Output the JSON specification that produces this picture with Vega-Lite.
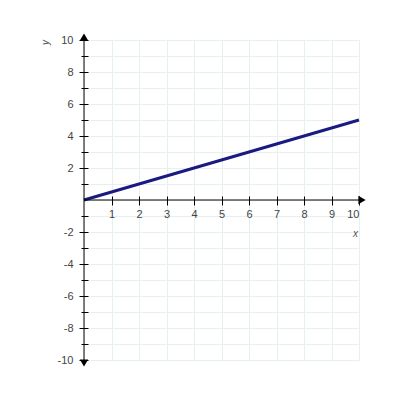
{
  "$schema": "https://vega.github.io/schema/vega-lite/v6.json",
  "autosize": {"type": "none"},
  "padding": {"left": 84, "top": 40, "right": 41, "bottom": 40},
  "width": 275,
  "height": 320,
  "config": {
    "view": {"stroke": null},
    "font": "Liberation Sans",
    "axis": {"labelFont": "Liberation Sans", "titleFont": "Liberation Sans"}
  },
  "datasets": {
    "line": [{"x": 0, "y": 0}, {"x": 10, "y": 5}],
    "axes": [
      {"x": 0, "y": -10, "x2": 0, "y2": 10},
      {"x": 0, "y": 0, "x2": 10, "y2": 0}
    ],
    "arrows": [
      {"x": 10, "y": 0, "dir": "right"},
      {"x": 0, "y": 10, "dir": "up"},
      {"x": 0, "y": -10, "dir": "down"}
    ]
  },
  "resolve": {"axis": {"x": "independent", "y": "independent"}},
  "layer": [
    {
      "data": {"name": "line"},
      "mark": {"type": "line", "color": "#1a1a80", "strokeWidth": 3},
      "encoding": {
        "x": {"field": "x", "type": "quantitative", "scale": {"domain": [0, 10], "nice": false},
          "axis": {"orient": "bottom", "grid": true, "gridColor": "#e6f0f0", "gridWidth": 1, "values": [0,1,2,3,4,5,6,7,8,9,10], "labels": false, "ticks": false, "domain": false, "title": null}},
        "y": {"field": "y", "type": "quantitative", "scale": {"domain": [-10, 10], "nice": false},
          "axis": {"orient": "left", "grid": true, "gridColor": "#e6f0f0", "gridWidth": 1, "values": [-10,-9,-8,-7,-6,-5,-4,-3,-2,-1,0,1,2,3,4,5,6,7,8,9,10], "labels": false, "ticks": false, "domain": false, "title": null}}
      }
    },
    {
      "data": {"name": "axes"},
      "mark": {"type": "rule", "color": "#000000", "strokeWidth": 1},
      "encoding": {
        "x": {"field": "x", "type": "quantitative",
          "axis": {"orient": "bottom", "offset": -164, "domain": false, "grid": false, "values": [1,2,3,4,5,6,7,8,9,10], "tickSize": 9, "tickColor": "#000000", "labelPadding": 3, "labelFontSize": 11, "labelColor": "#444444", "title": "x", "titleFontStyle": "italic", "titleFontWeight": "normal", "titleFontSize": 10, "titleColor": "#555555", "titleX": 271, "titleY": 37, "titleAlign": "center", "titleBaseline": "middle"}},
        "y": {"field": "y", "type": "quantitative",
          "axis": {"orient": "left", "offset": -4, "domain": false, "grid": false, "values": [-10,-9,-8,-7,-6,-5,-4,-3,-2,-1,1,2,3,4,5,6,7,8,9,10], "labelExpr": "datum.value % 2 === 0 ? toString(datum.value) : ''", "tickSize": {"expr": "datum.value % 2 === 0 ? 9 : 7"}, "tickColor": "#000000", "labelPadding": 6, "labelFontSize": 11, "labelColor": "#444444", "title": "y", "titleAngle": -90, "titleFontWeight": "normal", "titleFontStyle": "italic", "titleFontSize": 10, "titleColor": "#555555", "titleX": -43, "titleY": 2, "titleAlign": "center", "titleBaseline": "middle"}},
        "x2": {"field": "x2"},
        "y2": {"field": "y2"}
      }
    },
    {
      "data": {"name": "arrows"},
      "transform": [{"filter": "datum.dir === 'right'"}],
      "mark": {"type": "point", "shape": "triangle-right", "filled": true, "color": "#000000", "size": 70, "xOffset": 3, "opacity": 1},
      "encoding": {
        "x": {"field": "x", "type": "quantitative", "axis": null},
        "y": {"field": "y", "type": "quantitative", "axis": null}
      }
    },
    {
      "data": {"name": "arrows"},
      "transform": [{"filter": "datum.dir === 'up'"}],
      "mark": {"type": "point", "shape": "triangle-up", "filled": true, "color": "#000000", "size": 70, "yOffset": -3, "opacity": 1},
      "encoding": {
        "x": {"field": "x", "type": "quantitative", "axis": null},
        "y": {"field": "y", "type": "quantitative", "axis": null}
      }
    },
    {
      "data": {"name": "arrows"},
      "transform": [{"filter": "datum.dir === 'down'"}],
      "mark": {"type": "point", "shape": "triangle-down", "filled": true, "color": "#000000", "size": 70, "yOffset": 3, "opacity": 1},
      "encoding": {
        "x": {"field": "x", "type": "quantitative", "axis": null},
        "y": {"field": "y", "type": "quantitative", "axis": null}
      }
    }
  ]
}
